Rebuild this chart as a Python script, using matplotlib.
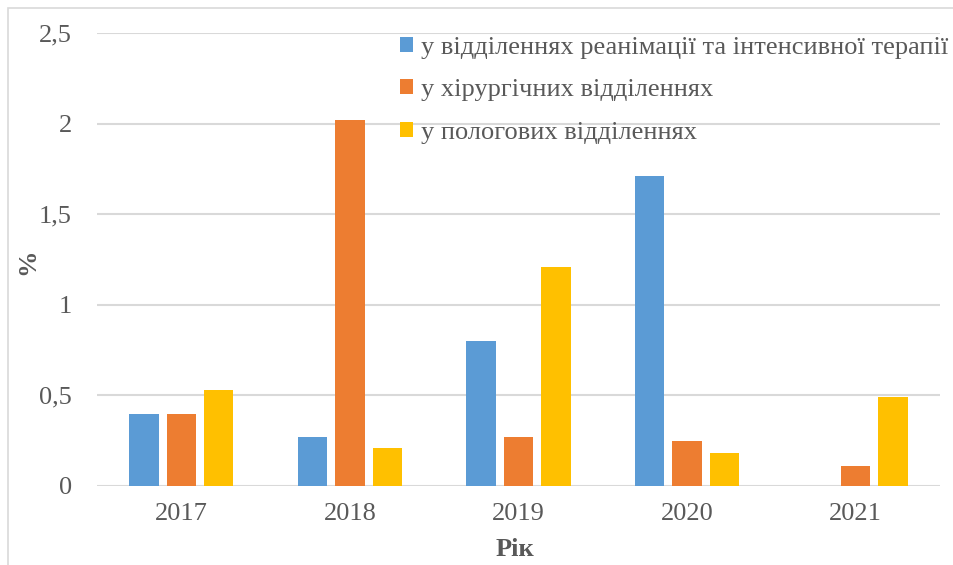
import numpy as np
import matplotlib.pyplot as plt
from matplotlib.patches import Rectangle

years = ["2017", "2018", "2019", "2020", "2021"]
icu = [0.40, 0.27, 0.80, 1.71, 0.0]
surgical = [0.40, 2.02, 0.27, 0.25, 0.11]
maternity = [0.53, 0.21, 1.21, 0.18, 0.49]
series_labels = [
    "у відділеннях реанімації та інтенсивної терапії",
    "у хірургічних відділеннях",
    "у пологових відділеннях",
]
colors = ["#5b9bd5", "#ed7d31", "#ffc000"]
yticks = [0, 0.5, 1, 1.5, 2, 2.5]
ytick_labels = ["0", "0,5", "1", "1,5", "2", "2,5"]

plt.rcParams["font.family"] = ["Liberation Serif", "DejaVu Serif"]
text_color = "#595959"

fig = plt.figure(figsize=(9.54, 5.65), dpi=100)
ax = fig.add_axes([97 / 954, 1 - 486 / 565, 843 / 954, 453 / 565])

x = np.arange(len(years))
width = 0.175
step = 0.222
for i, (vals, lab, c) in enumerate(zip([icu, surgical, maternity], series_labels, colors)):
    ax.bar(x + (i - 1) * step, vals, width, color=c, label=lab, zorder=3)

ax.set_xlim(-0.5, len(years) - 0.5)
ax.set_ylim(0, 2.5)
ax.set_yticks(yticks)
ax.set_yticklabels(ytick_labels)
ax.set_xticks(x)
ax.set_xticklabels(years)
ax.tick_params(axis="both", length=0, labelsize=19, labelcolor=text_color)
ax.tick_params(axis="y", pad=18)
ax.tick_params(axis="x", pad=12)
ax.grid(axis="y", color="#d9d9d9", linewidth=1.5, zorder=0)
for s in ax.spines.values():
    s.set_visible(False)

ax.set_ylabel("%", fontsize=19, fontweight="bold", color=text_color)
ax.yaxis.set_label_coords(28 / 954, 1 - 262 / 565, transform=fig.transFigure)
ax.set_xlabel("Рік", fontsize=19, fontweight="bold", color=text_color)
ax.xaxis.set_label_coords(515 / 954, 1 - 550 / 565, transform=fig.transFigure)
ax.xaxis.label.set_va("center")
ax.yaxis.label.set_va("center")

ax.legend(loc="upper left", bbox_to_anchor=(400 / 954, 1 - 37 / 565),
          bbox_transform=fig.transFigure, frameon=False, fontsize=19,
          labelcolor=text_color, handlelength=0.5, handleheight=0.5,
          handletextpad=0.3, labelspacing=0.77, borderaxespad=0, borderpad=0)

fig.patches.append(Rectangle((8 / 954, -0.1), 1.2, 1 - 8 / 565 + 0.1,
                             transform=fig.transFigure, fill=False,
                             edgecolor="#d9d9d9", linewidth=1.2))

fig.savefig("out.png", dpi=100)
plt.close(fig)
